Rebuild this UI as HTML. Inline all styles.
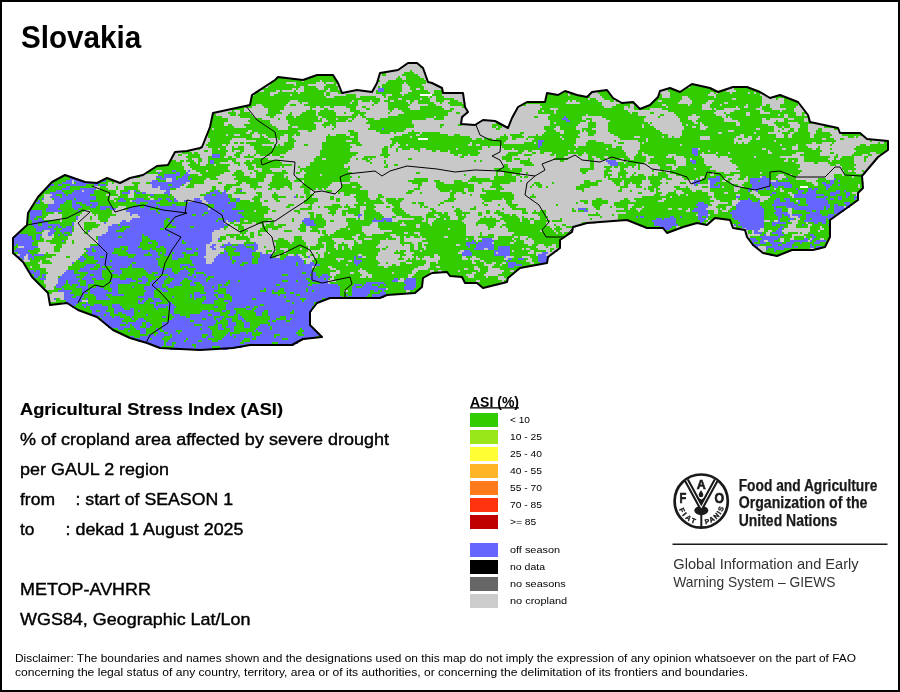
<!DOCTYPE html>
<html><head><meta charset="utf-8"><title>Slovakia ASI</title>
<style>
html,body{margin:0;padding:0;background:#fff;}
body{width:900px;height:692px;position:relative;overflow:hidden;font-family:"Liberation Sans",Arial,sans-serif;color:#000;}
#frame{position:absolute;left:0;top:0;width:896px;height:688px;border:2px solid #000;z-index:5;pointer-events:none;}
.lg{position:absolute;left:470px;width:28px;height:14px;}
svg{position:absolute;left:0;top:0;}
</style></head><body>
<svg id="map" width="900" height="692" viewBox="0 0 900 692">
<polygon points="13,238 27,225 28,213 38,197 52,182 65,175 85,182 97,183 107,178 120,183 130,178 143,175 157,166 168,165 175,152 187,151 200,148 202,147 210,127 213,113 250,105 252,95 275,80 278,77 303,80 317,75 333,75 338,83 342,93 357,90 372,92 377,83 380,73 398,70 408,63 417,63 423,68 428,82 432,83 442,88 443,93 463,93 465,107 468,112 462,117 461,124 475,125 483,120 495,121 508,128 512,118 518,107 527,102 545,102 547,93 558,95 565,91 577,95 587,97 592,92 607,90 613,98 622,103 633,102 640,109 650,105 658,97 660,91 670,88 680,92 692,84 710,88 718,92 733,87 747,87 760,92 770,98 780,95 798,102 808,115 810,122 838,128 840,133 860,133 867,139 888,141 888,150 878,157 873,163 862,176 863,188 858,193 858,200 830,220 830,237 825,247 813,250 792,250 777,256 763,253 753,245 747,237 745,230 733,228 730,220 715,218 707,225 697,223 683,227 667,233 663,228 647,228 627,220 600,222 587,223 573,227 572,232 560,240 560,248 548,257 547,263 520,268 508,278 507,282 483,288 477,283 465,283 462,277 450,276 447,272 432,273 423,278 422,287 415,293 387,295 380,298 330,298 317,303 310,312 310,325 322,337 303,339 292,345 250,345 233,348 200,350 160,348 147,343 130,338 113,330 97,317 78,310 67,303 50,305 48,293 32,277 23,262 13,253" fill="#33cc00" shape-rendering="crispEdges"/>
<g fill="none" stroke-width="2" shape-rendering="crispEdges">
<path stroke="#c8c8c8" d="M408 63h8M406 65h14M402 67h18M400 69h24M392 71h18M412 71h12M380 73h2M386 73h18M414 73h12M380 75h2M386 75h16M418 75h8M378 77h20M400 77h6M420 77h6M378 79h18M402 79h4M424 79h4M302 81h2M320 81h2M336 81h2M380 81h8M426 81h2M286 83h10M316 83h8M326 83h8M376 83h10M404 83h2M426 83h6M268 85h2M294 85h2M308 85h18M336 85h4M376 85h6M402 85h6M422 85h14M264 87h4M300 87h4M316 87h8M338 87h2M374 87h4M380 87h2M402 87h8M424 87h16M688 87h2M292 89h4M298 89h6M318 89h6M328 89h2M338 89h2M374 89h4M402 89h8M416 89h4M424 89h18M728 89h6M258 91h6M276 91h4M282 91h12M296 91h8M326 91h4M352 91h14M372 91h4M402 91h10M428 91h6M442 91h2M660 91h8M726 91h10M270 93h8M298 93h2M324 93h2M330 93h8M344 93h32M400 93h8M430 93h4M442 93h20M568 93h4M592 93h6M660 93h10M710 93h4M716 93h2M730 93h2M748 93h2M754 93h2M252 95h2M270 95h4M290 95h2M324 95h2M330 95h16M356 95h26M386 95h6M402 95h2M442 95h22M568 95h2M576 95h2M590 95h10M662 95h8M708 95h8M760 95h6M326 97h8M356 97h4M376 97h8M386 97h2M428 97h2M432 97h4M444 97h20M586 97h2M590 97h12M662 97h8M682 97h6M714 97h2M762 97h6M784 97h2M380 99h8M398 99h4M420 99h2M430 99h6M454 99h10M588 99h2M596 99h8M682 99h8M732 99h4M762 99h14M778 99h6M290 101h8M352 101h2M358 101h4M370 101h2M380 101h4M390 101h4M406 101h4M414 101h4M430 101h6M444 101h6M458 101h6M568 101h2M572 101h4M598 101h12M614 101h2M658 101h4M680 101h12M708 101h6M762 101h22M288 103h12M302 103h6M350 103h2M358 103h16M378 103h10M408 103h2M412 103h6M434 103h6M442 103h6M462 103h4M566 103h14M602 103h18M678 103h14M706 103h6M724 103h4M762 103h22M256 105h6M286 105h4M296 105h8M358 105h14M374 105h14M410 105h18M436 105h14M526 105h14M602 105h14M630 105h4M662 105h4M688 105h2M702 105h8M720 105h2M746 105h2M762 105h4M770 105h10M798 105h2M252 107h12M284 107h26M316 107h4M324 107h6M334 107h12M356 107h6M366 107h22M408 107h12M442 107h20M464 107h2M518 107h24M604 107h8M624 107h4M630 107h4M666 107h2M702 107h8M736 107h2M744 107h4M760 107h2M770 107h10M796 107h6M244 109h24M284 109h26M312 109h12M328 109h22M356 109h10M370 109h18M394 109h4M410 109h10M444 109h6M454 109h12M516 109h24M550 109h8M624 109h10M650 109h12M702 109h10M714 109h2M724 109h16M756 109h6M772 109h14M794 109h10M222 111h10M234 111h6M244 111h24M280 111h26M316 111h4M334 111h16M360 111h30M392 111h10M452 111h16M516 111h22M542 111h2M554 111h2M628 111h40M716 111h18M760 111h4M780 111h2M794 111h12M214 113h14M236 113h4M250 113h18M282 113h8M292 113h10M316 113h2M336 113h8M346 113h8M366 113h22M390 113h14M448 113h8M460 113h8M514 113h24M554 113h2M630 113h2M638 113h12M654 113h20M714 113h10M726 113h4M746 113h4M760 113h10M796 113h6M216 115h14M236 115h2M252 115h14M276 115h12M292 115h8M316 115h2M336 115h16M358 115h2M364 115h34M448 115h18M514 115h36M586 115h2M638 115h22M664 115h12M692 115h4M716 115h10M746 115h4M778 115h2M784 115h4M796 115h6M804 115h4M222 117h18M254 117h16M274 117h12M294 117h2M318 117h4M356 117h6M366 117h22M434 117h2M444 117h20M512 117h22M538 117h10M582 117h20M646 117h12M660 117h18M688 117h12M722 117h4M728 117h2M784 117h4M228 119h22M262 119h16M280 119h6M318 119h2M322 119h4M336 119h2M348 119h4M354 119h12M374 119h6M426 119h8M444 119h18M512 119h36M582 119h4M592 119h14M644 119h36M688 119h10M724 119h8M762 119h4M770 119h14M788 119h6M804 119h4M228 121h20M270 121h18M322 121h6M346 121h2M352 121h16M412 121h50M482 121h12M510 121h40M586 121h4M592 121h18M644 121h36M692 121h4M724 121h14M762 121h14M778 121h6M804 121h4M224 123h26M270 123h18M314 123h10M336 123h30M412 123h50M478 123h18M510 123h40M554 123h2M580 123h8M596 123h12M648 123h2M652 123h30M694 123h4M700 123h2M736 123h4M762 123h12M788 123h10M812 123h4M224 125h4M232 125h12M272 125h18M316 125h6M330 125h2M336 125h34M414 125h26M444 125h14M462 125h30M510 125h40M578 125h10M596 125h12M642 125h2M650 125h32M686 125h2M700 125h4M736 125h4M768 125h8M790 125h10M808 125h16M234 127h12M276 127h12M292 127h6M316 127h8M326 127h8M336 127h34M414 127h26M442 127h50M496 127h2M502 127h4M508 127h36M556 127h4M576 127h12M596 127h12M642 127h2M654 127h30M692 127h4M700 127h8M774 127h4M782 127h2M790 127h10M808 127h16M212 129h2M278 129h10M316 129h16M334 129h34M406 129h90M500 129h44M554 129h6M576 129h6M592 129h16M656 129h28M700 129h6M756 129h4M774 129h8M784 129h6M794 129h4M808 129h10M822 129h12M248 131h4M298 131h10M312 131h36M354 131h22M404 131h8M414 131h132M556 131h8M580 131h2M584 131h2M596 131h12M660 131h22M728 131h6M774 131h4M780 131h8M794 131h4M808 131h8M822 131h18M246 133h4M254 133h4M300 133h50M358 133h22M390 133h4M396 133h12M420 133h2M440 133h80M524 133h20M560 133h4M580 133h8M596 133h14M662 133h20M718 133h4M754 133h2M768 133h14M790 133h4M810 133h6M830 133h12M226 135h2M234 135h6M252 135h8M262 135h4M284 135h4M294 135h2M300 135h28M330 135h6M346 135h4M358 135h44M416 135h4M448 135h6M460 135h44M506 135h4M522 135h14M538 135h4M578 135h10M594 135h20M668 135h14M740 135h4M776 135h8M788 135h4M810 135h4M832 135h10M206 137h2M252 137h8M264 137h4M280 137h8M292 137h34M350 137h4M358 137h36M410 137h2M470 137h30M508 137h4M524 137h4M560 137h2M580 137h38M634 137h6M662 137h2M668 137h4M674 137h6M700 137h10M736 137h8M748 137h4M758 137h2M776 137h8M788 137h4M810 137h4M830 137h18M854 137h2M858 137h6M206 139h4M232 139h14M268 139h10M280 139h8M294 139h32M358 139h32M472 139h4M482 139h2M492 139h4M508 139h4M516 139h10M528 139h6M562 139h2M576 139h44M646 139h2M700 139h10M734 139h4M742 139h10M756 139h4M822 139h4M834 139h6M844 139h26M204 141h6M230 141h26M270 141h18M296 141h30M346 141h6M358 141h34M506 141h26M576 141h12M596 141h18M616 141h22M646 141h2M734 141h16M774 141h2M836 141h34M872 141h12M204 143h4M230 143h4M238 143h2M244 143h2M274 143h10M294 143h28M360 143h32M396 143h2M470 143h2M504 143h20M534 143h2M576 143h10M604 143h14M624 143h16M642 143h2M734 143h2M738 143h4M744 143h4M812 143h4M822 143h10M834 143h44M880 143h4M202 145h4M222 145h4M228 145h22M262 145h12M276 145h2M280 145h4M294 145h10M308 145h14M350 145h6M362 145h28M394 145h6M406 145h2M468 145h4M476 145h4M574 145h12M612 145h28M680 145h2M780 145h2M796 145h2M806 145h24M832 145h28M866 145h4M202 147h6M226 147h6M234 147h4M244 147h10M272 147h2M294 147h28M352 147h32M388 147h2M392 147h6M482 147h6M490 147h12M576 147h2M612 147h4M622 147h18M792 147h6M808 147h10M820 147h36M196 149h2M200 149h12M218 149h2M226 149h6M244 149h10M292 149h30M350 149h32M388 149h8M398 149h4M410 149h4M420 149h6M456 149h2M482 149h22M512 149h2M606 149h2M622 149h18M698 149h2M762 149h4M782 149h4M792 149h6M812 149h4M820 149h10M832 149h22M190 151h14M208 151h4M228 151h4M234 151h6M244 151h12M288 151h32M350 151h32M388 151h8M398 151h20M420 151h12M436 151h4M448 151h2M478 151h40M524 151h4M532 151h8M568 151h2M574 151h2M624 151h14M708 151h2M768 151h2M822 151h34M174 153h8M192 153h2M198 153h14M226 153h10M242 153h14M286 153h34M358 153h24M388 153h62M480 153h28M522 153h10M536 153h4M544 153h8M584 153h2M626 153h12M642 153h2M702 153h2M716 153h2M728 153h2M768 153h4M796 153h8M820 153h10M834 153h20M870 153h6M174 155h4M182 155h6M200 155h12M226 155h8M240 155h8M250 155h4M256 155h4M270 155h2M280 155h40M356 155h24M390 155h64M458 155h4M468 155h2M478 155h28M518 155h6M532 155h18M554 155h2M568 155h10M582 155h6M626 155h10M642 155h6M668 155h8M700 155h16M792 155h8M820 155h16M838 155h14M862 155h6M872 155h10M172 157h14M200 157h8M224 157h4M232 157h4M240 157h4M254 157h26M284 157h32M352 157h12M376 157h8M388 157h72M464 157h38M512 157h44M564 157h24M592 157h4M604 157h4M628 157h6M646 157h8M666 157h6M674 157h10M702 157h16M720 157h8M754 157h2M780 157h24M830 157h4M838 157h4M854 157h10M868 157h12M172 159h16M192 159h6M202 159h6M236 159h18M268 159h46M322 159h4M350 159h6M358 159h4M368 159h2M372 159h36M412 159h90M512 159h2M520 159h8M530 159h24M568 159h20M594 159h6M606 159h4M620 159h4M630 159h4M646 159h4M674 159h12M690 159h2M704 159h28M786 159h2M798 159h6M828 159h6M836 159h4M854 159h10M866 159h12M176 161h4M184 161h2M194 161h4M202 161h6M228 161h4M236 161h10M250 161h2M280 161h34M350 161h16M370 161h14M386 161h88M476 161h4M482 161h24M512 161h8M530 161h30M564 161h26M594 161h12M616 161h8M626 161h2M646 161h4M676 161h10M704 161h26M784 161h4M792 161h2M798 161h6M830 161h2M854 161h10M866 161h10M182 163h8M196 163h2M200 163h8M220 163h14M240 163h4M282 163h28M348 163h22M372 163h12M386 163h134M532 163h58M594 163h14M624 163h2M644 163h4M676 163h10M704 163h28M796 163h18M818 163h10M854 163h20M182 165h6M200 165h6M214 165h2M230 165h8M240 165h6M252 165h4M292 165h18M344 165h42M388 165h6M398 165h106M508 165h16M534 165h56M594 165h16M636 165h2M640 165h18M666 165h8M676 165h10M706 165h30M800 165h30M836 165h4M856 165h16M184 167h6M228 167h20M254 167h2M280 167h2M284 167h14M300 167h6M344 167h4M350 167h34M388 167h116M508 167h82M594 167h10M612 167h2M618 167h2M628 167h4M634 167h4M640 167h20M672 167h6M712 167h26M800 167h42M854 167h16M184 169h8M228 169h20M254 169h8M270 169h30M350 169h144M510 169h2M522 169h58M594 169h12M610 169h10M624 169h14M640 169h20M672 169h4M694 169h2M710 169h26M798 169h44M856 169h12M156 171h6M186 171h2M190 171h6M206 171h2M230 171h6M242 171h12M258 171h4M272 171h10M286 171h14M302 171h2M348 171h148M522 171h58M588 171h16M612 171h8M626 171h26M654 171h8M664 171h6M716 171h24M802 171h42M848 171h4M854 171h8M864 171h2M188 173h12M224 173h10M244 173h6M252 173h4M288 173h8M300 173h6M352 173h64M420 173h76M498 173h6M520 173h6M528 173h54M586 173h18M608 173h10M628 173h6M636 173h22M666 173h4M712 173h2M724 173h6M760 173h2M800 173h44M856 173h10M142 175h16M198 175h4M220 175h12M244 175h12M266 175h8M284 175h20M320 175h2M350 175h114M466 175h30M498 175h6M512 175h4M520 175h84M612 175h6M626 175h6M634 175h4M644 175h8M654 175h4M668 175h8M710 175h4M734 175h6M778 175h6M790 175h2M798 175h36M842 175h2M140 177h16M216 177h20M250 177h6M266 177h6M284 177h2M288 177h16M352 177h6M360 177h112M476 177h18M516 177h4M522 177h2M528 177h76M606 177h2M610 177h8M620 177h2M626 177h4M646 177h2M668 177h14M700 177h4M726 177h14M746 177h2M760 177h2M776 177h10M796 177h38M852 177h2M128 179h28M166 179h6M206 179h4M218 179h16M264 179h8M288 179h8M350 179h64M428 179h42M490 179h4M516 179h92M646 179h2M662 179h4M672 179h12M696 179h2M700 179h2M724 179h4M732 179h6M744 179h4M778 179h4M796 179h22M826 179h8M72 181h2M124 181h28M166 181h6M204 181h34M264 181h8M290 181h4M302 181h2M350 181h58M428 181h6M440 181h14M462 181h6M516 181h4M522 181h62M590 181h6M602 181h10M622 181h2M642 181h8M660 181h34M708 181h2M722 181h4M730 181h18M770 181h6M806 181h10M72 183h2M108 183h4M114 183h18M140 183h6M186 183h4M204 183h14M222 183h14M242 183h4M258 183h12M292 183h12M332 183h18M358 183h54M422 183h14M444 183h10M468 183h10M482 183h10M510 183h24M540 183h12M554 183h30M598 183h16M620 183h4M630 183h2M642 183h8M662 183h4M668 183h12M686 183h6M708 183h2M730 183h14M812 183h6M862 183h2M108 185h26M138 185h14M184 185h4M194 185h32M240 185h10M258 185h10M292 185h10M330 185h12M360 185h58M422 185h14M474 185h18M500 185h32M534 185h2M542 185h38M598 185h18M620 185h4M628 185h8M640 185h12M660 185h34M698 185h12M738 185h4M814 185h4M858 185h2M94 187h6M106 187h10M118 187h6M138 187h14M158 187h2M180 187h6M194 187h18M216 187h8M232 187h18M262 187h8M284 187h4M292 187h8M328 187h14M352 187h4M362 187h56M420 187h16M474 187h16M502 187h28M532 187h6M542 187h4M548 187h28M590 187h30M628 187h8M642 187h6M658 187h16M680 187h6M688 187h14M708 187h2M722 187h2M734 187h10M858 187h2M96 189h4M108 189h8M118 189h6M138 189h22M176 189h36M216 189h8M230 189h6M242 189h12M256 189h12M272 189h4M280 189h10M292 189h12M316 189h2M322 189h2M326 189h14M360 189h54M420 189h18M464 189h4M474 189h8M484 189h12M504 189h72M584 189h36M622 189h22M646 189h2M654 189h2M660 189h16M690 189h20M734 189h6M774 189h2M780 189h2M82 191h2M116 191h4M130 191h4M140 191h26M170 191h40M220 191h4M228 191h8M242 191h62M310 191h16M332 191h6M368 191h40M414 191h26M450 191h2M464 191h4M474 191h8M500 191h82M584 191h34M622 191h8M632 191h18M654 191h2M658 191h16M676 191h6M692 191h4M702 191h8M734 191h4M752 191h4M780 191h4M116 193h4M130 193h4M146 193h18M170 193h36M226 193h8M246 193h10M262 193h12M276 193h28M310 193h28M340 193h4M368 193h38M412 193h8M422 193h28M456 193h6M466 193h20M512 193h126M642 193h14M662 193h6M676 193h8M708 193h6M724 193h4M750 193h8M788 193h4M852 193h6M44 195h8M106 195h4M118 195h2M128 195h6M172 195h28M232 195h26M262 195h10M278 195h18M298 195h8M314 195h30M350 195h6M368 195h10M382 195h68M454 195h16M472 195h8M514 195h18M534 195h120M660 195h6M678 195h2M686 195h2M708 195h6M736 195h4M754 195h6M790 195h4M856 195h2M44 197h6M110 197h8M128 197h6M148 197h2M174 197h30M232 197h22M262 197h10M286 197h8M298 197h2M304 197h2M312 197h18M334 197h20M368 197h10M384 197h66M454 197h26M514 197h16M536 197h106M670 197h2M712 197h2M756 197h14M792 197h2M44 199h8M110 199h4M150 199h4M176 199h18M200 199h4M240 199h12M260 199h14M278 199h28M318 199h12M334 199h2M340 199h16M370 199h6M380 199h6M396 199h2M404 199h44M456 199h26M502 199h2M514 199h82M602 199h22M628 199h6M662 199h4M710 199h6M736 199h2M760 199h8M42 201h12M114 201h2M130 201h2M178 201h6M188 201h6M202 201h4M250 201h4M260 201h4M268 201h8M280 201h24M318 201h18M340 201h16M382 201h4M402 201h42M454 201h30M492 201h14M512 201h68M588 201h4M608 201h12M630 201h6M658 201h6M714 201h6M732 201h8M760 201h4M796 201h2M44 203h10M202 203h6M262 203h42M314 203h44M364 203h2M384 203h4M400 203h12M416 203h2M424 203h16M444 203h38M484 203h22M512 203h64M578 203h6M588 203h4M608 203h6M710 203h18M732 203h6M262 205h26M294 205h16M312 205h20M340 205h6M348 205h6M374 205h18M400 205h20M424 205h14M440 205h44M488 205h10M500 205h8M518 205h38M558 205h34M602 205h12M628 205h6M712 205h6M732 205h4M118 207h8M268 207h18M290 207h18M312 207h6M320 207h4M342 207h2M350 207h6M360 207h6M376 207h10M390 207h4M400 207h20M422 207h2M428 207h24M454 207h20M476 207h34M516 207h78M600 207h10M612 207h4M628 207h4M642 207h2M708 207h8M726 207h6M844 207h2M116 209h8M208 209h2M270 209h30M312 209h16M338 209h10M360 209h6M374 209h18M402 209h28M434 209h22M460 209h10M476 209h26M504 209h8M526 209h46M574 209h4M588 209h8M600 209h24M628 209h2M636 209h6M668 209h4M678 209h4M688 209h2M706 209h12M720 209h2M726 209h4M788 209h4M84 211h6M112 211h14M254 211h2M268 211h4M276 211h18M300 211h30M336 211h6M360 211h4M376 211h16M404 211h28M436 211h18M462 211h24M490 211h6M500 211h22M526 211h8M536 211h4M546 211h26M576 211h2M588 211h28M638 211h2M686 211h4M714 211h4M722 211h6M788 211h4M54 213h4M82 213h10M112 213h18M268 213h30M300 213h8M314 213h14M336 213h6M346 213h2M360 213h4M380 213h14M406 213h22M442 213h2M448 213h8M470 213h8M482 213h4M490 213h4M504 213h18M528 213h4M546 213h50M598 213h28M714 213h4M788 213h4M48 215h14M80 215h14M96 215h2M116 215h14M132 215h6M264 215h46M314 215h2M322 215h10M334 215h8M346 215h8M362 215h2M382 215h14M410 215h16M434 215h4M448 215h8M462 215h2M466 215h12M482 215h16M510 215h2M516 215h22M546 215h42M600 215h12M614 215h4M696 215h2M708 215h2M790 215h2M836 215h2M46 217h16M78 217h12M92 217h6M110 217h30M264 217h46M314 217h2M322 217h36M360 217h4M384 217h8M396 217h6M422 217h4M436 217h4M450 217h8M466 217h18M486 217h4M492 217h10M518 217h4M524 217h16M548 217h52M602 217h16M790 217h8M44 219h18M78 219h12M92 219h6M108 219h24M272 219h20M294 219h10M324 219h22M356 219h2M360 219h4M392 219h22M424 219h2M428 219h8M444 219h2M450 219h8M464 219h16M496 219h4M520 219h2M528 219h2M534 219h6M546 219h14M562 219h28M592 219h26M706 219h2M796 219h4M60 221h2M76 221h24M108 221h14M126 221h4M226 221h2M244 221h4M268 221h4M274 221h18M294 221h8M326 221h4M334 221h12M392 221h6M422 221h4M428 221h6M462 221h16M500 221h4M520 221h2M530 221h4M550 221h2M562 221h50M708 221h2M764 221h6M774 221h4M790 221h8M74 223h10M96 223h8M106 223h14M224 223h6M234 223h6M252 223h4M264 223h6M274 223h28M326 223h22M372 223h6M402 223h2M428 223h4M464 223h12M496 223h10M530 223h4M546 223h36M586 223h10M706 223h2M792 223h6M806 223h2M74 225h10M100 225h12M230 225h4M242 225h20M264 225h2M274 225h4M286 225h14M326 225h22M370 225h8M400 225h6M416 225h4M430 225h2M466 225h10M478 225h8M496 225h6M546 225h8M556 225h6M566 225h16M732 225h2M788 225h8M808 225h4M74 227h10M98 227h10M228 227h10M244 227h18M282 227h18M306 227h4M324 227h22M362 227h16M416 227h4M466 227h22M494 227h6M502 227h4M550 227h6M560 227h6M572 227h4M676 227h4M732 227h4M788 227h8M808 227h2M820 227h2M74 229h10M92 229h16M220 229h4M226 229h12M244 229h16M268 229h4M278 229h20M306 229h6M318 229h22M348 229h2M362 229h18M448 229h2M466 229h22M490 229h18M552 229h2M562 229h12M736 229h10M760 229h4M784 229h26M820 229h4M44 231h6M74 231h12M90 231h18M214 231h26M248 231h10M268 231h16M292 231h8M306 231h4M320 231h2M326 231h10M362 231h30M466 231h42M540 231h2M554 231h2M560 231h12M744 231h4M752 231h2M758 231h6M768 231h4M782 231h28M818 231h2M42 233h6M72 233h12M88 233h18M212 233h28M246 233h4M254 233h4M260 233h58M320 233h2M326 233h8M364 233h20M404 233h4M414 233h6M466 233h14M482 233h32M556 233h2M562 233h2M746 233h2M752 233h2M766 233h4M784 233h4M798 233h2M802 233h6M42 235h6M52 235h2M72 235h30M212 235h14M240 235h2M244 235h6M254 235h4M262 235h62M328 235h2M356 235h4M366 235h6M390 235h6M418 235h2M466 235h14M482 235h6M494 235h18M746 235h14M766 235h4M792 235h12M42 237h12M68 237h28M212 237h8M226 237h4M234 237h2M248 237h2M254 237h40M302 237h18M352 237h6M392 237h8M404 237h2M410 237h4M420 237h2M444 237h4M474 237h4M494 237h4M514 237h4M520 237h8M746 237h4M792 237h2M804 237h2M44 239h8M68 239h28M212 239h6M226 239h10M250 239h28M284 239h10M302 239h16M332 239h12M354 239h4M364 239h8M386 239h2M396 239h4M404 239h22M466 239h2M474 239h8M492 239h6M512 239h2M520 239h6M528 239h4M780 239h4M790 239h4M810 239h2M820 239h4M44 241h2M66 241h6M74 241h24M212 241h6M222 241h24M250 241h24M288 241h6M304 241h14M334 241h20M356 241h6M380 241h20M404 241h18M476 241h2M514 241h2M524 241h10M764 241h4M780 241h4M808 241h2M38 243h12M66 243h6M74 243h24M210 243h18M230 243h14M256 243h20M290 243h2M306 243h12M322 243h4M336 243h6M344 243h10M358 243h4M380 243h20M412 243h6M422 243h6M492 243h2M510 243h4M524 243h10M38 245h18M62 245h28M206 245h6M216 245h6M258 245h18M306 245h10M324 245h2M334 245h4M348 245h6M378 245h24M404 245h6M414 245h4M422 245h2M456 245h4M528 245h4M538 245h6M552 245h4M18 247h6M38 247h16M62 247h28M206 247h4M214 247h6M258 247h6M266 247h8M308 247h2M324 247h2M334 247h4M342 247h2M348 247h4M376 247h10M388 247h22M414 247h4M422 247h4M536 247h10M548 247h8M758 247h8M40 249h14M60 249h24M206 249h6M216 249h8M258 249h18M280 249h8M300 249h2M308 249h2M320 249h6M336 249h2M342 249h2M350 249h2M380 249h2M386 249h24M414 249h4M424 249h2M484 249h4M522 249h2M526 249h4M538 249h12M554 249h4M758 249h8M810 249h4M816 249h4M40 251h14M60 251h26M206 251h18M256 251h10M272 251h4M284 251h4M308 251h18M380 251h16M398 251h2M406 251h4M420 251h2M460 251h4M512 251h2M530 251h4M546 251h4M552 251h6M760 251h6M38 253h8M48 253h36M206 253h14M262 253h4M268 253h6M284 253h2M306 253h10M318 253h6M328 253h2M378 253h16M404 253h10M458 253h4M496 253h2M528 253h6M536 253h6M548 253h6M16 255h4M26 255h2M56 255h26M206 255h12M278 255h2M288 255h6M298 255h4M306 255h4M314 255h4M320 255h4M358 255h4M378 255h22M406 255h6M434 255h4M536 255h2M546 255h6M24 257h4M52 257h14M70 257h10M204 257h12M276 257h4M300 257h4M310 257h8M320 257h4M362 257h4M376 257h24M402 257h12M416 257h2M424 257h6M434 257h6M462 257h4M472 257h4M506 257h8M522 257h8M548 257h2M24 259h4M46 259h32M206 259h8M302 259h12M336 259h8M376 259h22M404 259h4M410 259h2M416 259h4M422 259h18M462 259h6M470 259h10M504 259h4M528 259h4M22 261h8M40 261h2M50 261h26M206 261h8M306 261h6M338 261h2M348 261h4M378 261h28M426 261h12M472 261h2M480 261h4M526 261h6M38 263h4M52 263h20M206 263h6M306 263h4M380 263h6M388 263h12M406 263h6M426 263h4M436 263h2M472 263h4M484 263h2M492 263h4M502 263h4M530 263h4M546 263h2M40 265h32M346 265h2M378 265h14M396 265h4M424 265h6M484 265h10M500 265h2M30 267h2M40 267h28M312 267h4M328 267h4M384 267h4M418 267h12M436 267h4M474 267h4M488 267h4M46 269h22M330 269h6M360 269h2M414 269h14M464 269h4M474 269h6M488 269h12M46 271h20M336 271h4M358 271h8M412 271h6M430 271h4M438 271h4M458 271h2M478 271h2M488 271h16M510 271h4M48 273h16M330 273h10M350 273h4M360 273h8M392 273h2M412 273h4M430 273h4M472 273h4M486 273h16M46 275h16M330 275h6M362 275h10M408 275h6M466 275h8M484 275h14M46 277h12M332 277h2M360 277h6M368 277h4M408 277h4M468 277h6M486 277h2M498 277h6M46 279h12M330 279h4M400 279h4M498 279h8M44 281h14M328 281h8M398 281h6M476 281h4M502 281h2M44 283h14M328 283h2M500 283h6M46 285h10M496 285h2M46 287h8M44 289h10M386 289h2M344 291h4M406 291h4M52 293h12M406 293h2M48 295h16M48 297h16M48 299h6M60 299h4M50 301h6M82 301h6M62 303h2M320 337h2M180 349h2"/>
<path stroke="#6666ff" d="M378 89h6M378 91h6M564 117h2M562 119h6M566 121h4M382 129h2M538 141h6M538 143h4M538 145h4M538 147h2M692 149h6M692 151h6M692 153h6M212 155h8M694 155h4M212 157h8M210 161h4M606 161h10M690 161h6M210 163h4M608 163h10M692 163h4M610 165h8M172 171h4M188 171h2M158 173h2M176 173h4M186 173h2M164 175h16M184 175h6M70 177h2M156 177h6M164 177h12M182 177h6M716 177h4M762 177h4M70 179h6M160 179h6M172 179h4M178 179h10M190 179h2M708 179h12M750 179h20M786 179h2M834 179h2M66 181h6M74 181h8M102 181h4M152 181h6M172 181h18M694 181h6M710 181h10M750 181h8M760 181h10M776 181h2M830 181h4M838 181h2M62 183h10M76 183h24M150 183h36M692 183h8M710 183h6M750 183h40M822 183h4M830 183h4M50 185h4M58 185h4M70 185h16M94 185h4M100 185h6M152 185h16M172 185h10M694 185h2M710 185h4M718 185h2M752 185h18M772 185h20M824 185h8M838 185h2M48 187h2M66 187h4M152 187h6M160 187h20M710 187h10M752 187h18M774 187h4M784 187h8M826 187h4M46 189h2M62 189h8M80 189h16M160 189h10M748 189h16M766 189h4M796 189h2M808 189h4M814 189h4M826 189h2M56 191h6M74 191h8M84 191h10M128 191h2M134 191h2M166 191h4M214 191h4M224 191h2M240 191h2M748 191h2M756 191h2M798 191h6M808 191h8M836 191h4M844 191h2M50 193h14M72 193h22M122 193h8M136 193h4M142 193h4M164 193h6M210 193h10M222 193h4M772 193h4M798 193h4M806 193h10M830 193h10M846 193h4M52 195h4M62 195h4M68 195h22M150 195h4M168 195h2M206 195h6M216 195h12M770 195h2M794 195h30M830 195h6M846 195h4M50 197h10M62 197h34M204 197h24M294 197h2M736 197h4M794 197h22M824 197h4M838 197h4M846 197h2M854 197h4M42 199h2M54 199h20M76 199h20M120 199h4M136 199h8M158 199h4M166 199h4M174 199h2M194 199h6M204 199h26M236 199h4M748 199h2M776 199h4M784 199h6M806 199h20M830 199h4M838 199h4M854 199h2M38 201h2M54 201h12M72 201h18M118 201h8M132 201h28M168 201h4M174 201h4M184 201h4M194 201h8M206 201h24M236 201h4M740 201h12M758 201h2M774 201h6M786 201h4M798 201h2M806 201h22M36 203h4M54 203h10M72 203h4M82 203h16M136 203h4M148 203h8M188 203h14M208 203h20M230 203h6M698 203h6M738 203h22M774 203h20M798 203h2M806 203h22M844 203h6M48 205h12M72 205h8M86 205h4M92 205h6M146 205h14M172 205h4M186 205h20M214 205h22M696 205h12M736 205h24M772 205h26M808 205h22M834 205h4M846 205h6M48 207h12M72 207h10M90 207h6M100 207h12M132 207h8M144 207h12M158 207h50M214 207h22M698 207h10M736 207h26M774 207h2M786 207h38M826 207h4M834 207h10M846 207h4M46 209h12M74 209h4M100 209h6M110 209h6M128 209h22M160 209h48M210 209h22M578 209h8M694 209h12M736 209h28M774 209h8M794 209h30M826 209h2M834 209h12M30 211h12M46 211h16M78 211h2M126 211h30M158 211h64M224 211h20M584 211h4M692 211h16M732 211h32M776 211h6M806 211h6M816 211h4M834 211h10M30 213h12M130 213h28M160 213h44M208 213h30M698 213h10M730 213h34M774 213h14M810 213h10M834 213h6M30 215h12M130 215h2M138 215h54M196 215h6M204 215h38M358 215h4M698 215h10M732 215h32M776 215h6M784 215h6M792 215h10M806 215h16M828 215h6M30 217h6M76 217h2M140 217h104M358 217h2M636 217h2M640 217h4M670 217h4M680 217h2M698 217h4M706 217h2M732 217h32M778 217h4M788 217h2M798 217h2M806 217h28M30 219h4M38 219h4M76 219h2M132 219h34M170 219h48M224 219h16M304 219h6M374 219h2M382 219h10M656 219h6M664 219h12M698 219h8M734 219h30M778 219h2M790 219h4M806 219h4M812 219h14M828 219h2M32 221h12M122 221h4M130 221h34M168 221h4M174 221h42M218 221h8M228 221h6M236 221h4M302 221h12M372 221h12M386 221h6M652 221h24M700 221h4M738 221h26M778 221h2M788 221h2M804 221h22M32 223h6M42 223h6M72 223h2M104 223h2M120 223h44M170 223h54M304 223h10M654 223h22M700 223h2M740 223h24M772 223h14M814 223h4M822 223h4M32 225h6M42 225h18M72 225h2M112 225h6M120 225h44M172 225h56M306 225h10M654 225h24M734 225h2M738 225h26M772 225h4M802 225h2M828 225h2M34 227h14M52 227h4M58 227h4M66 227h6M108 227h14M130 227h34M176 227h14M194 227h30M660 227h12M742 227h22M780 227h4M36 229h18M62 229h10M108 229h12M126 229h34M164 229h56M664 229h6M746 229h14M778 229h4M36 231h6M50 231h6M60 231h12M88 231h2M108 231h8M124 231h90M754 231h4M776 231h6M18 233h2M48 233h6M62 233h2M70 233h2M106 233h106M754 233h8M772 233h10M16 235h12M36 235h6M48 235h4M58 235h2M64 235h4M102 235h40M144 235h24M170 235h42M764 235h2M778 235h6M810 235h4M14 237h18M36 237h4M98 237h20M122 237h20M148 237h64M760 237h20M812 237h4M12 239h20M36 239h4M98 239h44M150 239h62M218 239h2M482 239h10M750 239h6M762 239h16M804 239h4M812 239h2M12 241h22M62 241h2M98 241h44M156 241h26M184 241h28M472 241h2M482 241h12M752 241h6M760 241h4M768 241h6M790 241h18M810 241h2M816 241h10M12 243h20M98 243h42M148 243h4M158 243h24M186 243h24M228 243h2M254 243h2M466 243h10M478 243h14M752 243h2M760 243h6M770 243h12M786 243h8M800 243h2M814 243h6M12 245h4M18 245h14M98 245h42M158 245h48M212 245h4M224 245h8M238 245h6M246 245h12M466 245h4M476 245h18M752 245h8M772 245h6M782 245h10M810 245h2M24 247h14M90 247h30M128 247h10M156 247h4M164 247h42M210 247h4M220 247h6M232 247h14M254 247h4M468 247h2M476 247h18M498 247h12M756 247h2M766 247h26M794 247h4M810 247h4M816 247h6M16 249h18M86 249h6M94 249h20M122 249h2M128 249h14M150 249h2M166 249h20M192 249h4M198 249h8M212 249h4M236 249h16M254 249h4M474 249h10M488 249h6M498 249h12M766 249h2M774 249h10M12 251h16M88 251h4M96 251h18M126 251h30M166 251h40M224 251h2M234 251h22M464 251h6M494 251h16M774 251h2M18 253h12M86 253h26M128 253h20M150 253h8M160 253h2M166 253h6M174 253h8M186 253h8M198 253h8M224 253h4M240 253h12M260 253h2M462 253h10M494 253h2M498 253h12M542 253h6M20 255h6M28 255h4M34 255h10M88 255h30M136 255h8M152 255h6M164 255h6M172 255h12M198 255h8M218 255h10M240 255h12M260 255h12M296 255h2M462 255h10M494 255h16M538 255h8M770 255h2M18 257h6M28 257h6M80 257h4M94 257h6M104 257h24M134 257h26M172 257h12M190 257h14M216 257h14M232 257h22M260 257h12M286 257h14M308 257h2M354 257h2M358 257h4M504 257h2M538 257h10M22 259h2M28 259h2M32 259h2M78 259h8M94 259h62M172 259h6M190 259h16M214 259h16M232 259h20M258 259h22M284 259h18M354 259h2M508 259h4M518 259h6M538 259h10M80 261h4M98 261h12M112 261h46M192 261h14M214 261h18M236 261h16M258 261h46M354 261h8M506 261h2M538 261h10M72 263h2M96 263h36M136 263h22M192 263h14M212 263h20M234 263h8M248 263h4M258 263h38M298 263h6M310 263h4M354 263h6M508 263h8M540 263h6M86 265h10M100 265h30M132 265h26M180 265h10M194 265h46M244 265h52M298 265h22M356 265h2M508 265h14M84 267h10M100 267h2M112 267h16M132 267h28M180 267h2M188 267h124M508 267h6M80 269h10M98 269h8M110 269h10M144 269h20M166 269h6M184 269h2M196 269h116M28 271h6M36 271h4M66 271h8M78 271h24M114 271h8M146 271h26M180 271h8M194 271h118M30 273h10M64 273h10M88 273h14M112 273h10M148 273h4M158 273h16M178 273h12M194 273h2M204 273h98M306 273h10M34 275h6M42 275h4M62 275h18M86 275h4M94 275h8M118 275h2M154 275h6M168 275h20M192 275h12M206 275h76M288 275h22M312 275h4M322 275h6M34 277h4M42 277h2M60 277h16M84 277h18M142 277h4M160 277h8M170 277h24M196 277h12M214 277h104M320 277h10M40 279h6M58 279h22M82 279h10M96 279h8M112 279h8M126 279h6M138 279h10M156 279h10M174 279h10M188 279h18M210 279h96M310 279h14M326 279h2M394 279h4M406 279h10M58 281h8M68 281h10M86 281h8M110 281h26M142 281h6M152 281h12M172 281h10M192 281h14M208 281h20M230 281h8M240 281h42M288 281h8M298 281h10M312 281h16M392 281h6M404 281h12M58 283h8M68 283h12M86 283h8M112 283h18M138 283h8M150 283h6M158 283h6M170 283h10M190 283h4M200 283h26M230 283h80M320 283h8M366 283h18M404 283h12M56 285h8M70 285h2M78 285h2M86 285h2M110 285h8M150 285h12M166 285h16M190 285h6M202 285h16M222 285h2M228 285h48M280 285h28M312 285h26M354 285h8M364 285h8M378 285h2M384 285h2M406 285h10M56 287h6M76 287h12M96 287h4M110 287h8M132 287h2M144 287h18M168 287h6M204 287h8M214 287h4M220 287h120M352 287h4M362 287h16M404 287h12M62 289h2M82 289h6M90 289h14M112 289h6M144 289h12M160 289h6M204 289h14M226 289h38M266 289h14M284 289h22M308 289h32M352 289h34M404 289h10M58 291h14M82 291h4M90 291h18M112 291h6M146 291h8M162 291h6M204 291h10M226 291h34M266 291h6M274 291h4M284 291h22M308 291h4M314 291h26M352 291h18M374 291h4M382 291h2M64 293h6M82 293h6M90 293h28M144 293h10M194 293h6M206 293h12M226 293h46M286 293h4M294 293h46M352 293h18M380 293h6M64 295h10M82 295h2M94 295h12M112 295h12M144 295h10M190 295h2M194 295h20M218 295h6M230 295h48M280 295h16M300 295h40M346 295h2M352 295h16M372 295h14M64 297h8M76 297h8M96 297h12M138 297h16M172 297h2M190 297h2M194 297h8M206 297h10M218 297h6M232 297h52M286 297h56M348 297h18M372 297h12M54 299h2M64 299h18M86 299h2M96 299h14M144 299h4M152 299h8M194 299h2M206 299h12M232 299h20M256 299h44M306 299h16M66 301h16M138 301h2M142 301h4M154 301h8M204 301h10M224 301h6M232 301h54M290 301h12M304 301h16M66 303h12M86 303h2M138 303h6M150 303h6M168 303h4M202 303h12M228 303h64M294 303h20M70 305h6M82 305h8M94 305h8M112 305h8M154 305h2M158 305h16M226 305h34M264 305h50M72 307h2M84 307h2M90 307h18M112 307h10M154 307h12M168 307h8M214 307h4M226 307h20M250 307h4M258 307h54M76 309h2M90 309h18M114 309h10M130 309h4M156 309h2M168 309h6M226 309h8M246 309h6M256 309h56M92 311h4M100 311h6M114 311h20M138 311h2M170 311h4M202 311h6M210 311h4M222 311h4M230 311h6M254 311h10M268 311h24M294 311h18M92 313h18M114 313h4M122 313h12M170 313h4M200 313h20M230 313h6M256 313h6M268 313h22M294 313h16M92 315h12M106 315h4M126 315h8M146 315h2M172 315h8M190 315h18M212 315h8M228 315h6M238 315h2M256 315h6M268 315h42M100 317h12M114 317h6M130 317h2M162 317h4M174 317h12M190 317h24M220 317h4M238 317h4M270 317h10M286 317h24M102 319h22M132 319h2M138 319h6M172 319h30M206 319h8M216 319h6M226 319h6M238 319h6M270 319h6M286 319h4M292 319h18M102 321h20M136 321h10M168 321h22M194 321h22M218 321h2M228 321h4M242 321h4M268 321h4M276 321h10M290 321h20M104 323h22M128 323h14M146 323h4M162 323h54M228 323h8M244 323h6M270 323h40M106 325h14M126 325h4M132 325h10M146 325h6M162 325h32M202 325h12M218 325h4M228 325h8M244 325h6M260 325h8M270 325h40M108 327h22M134 327h6M146 327h4M162 327h46M218 327h4M226 327h8M244 327h6M258 327h12M272 327h40M118 329h6M136 329h10M156 329h2M162 329h38M202 329h8M218 329h6M230 329h4M256 329h14M272 329h28M302 329h12M128 331h2M140 331h6M156 331h4M164 331h12M182 331h30M230 331h4M254 331h2M258 331h40M304 331h12M140 333h6M158 333h6M168 333h10M180 333h32M228 333h2M240 333h6M248 333h4M262 333h34M302 333h16M148 335h6M156 335h14M172 335h30M208 335h4M226 335h4M232 335h20M260 335h14M280 335h18M304 335h16M130 337h4M140 337h24M172 337h30M206 337h8M224 337h10M236 337h18M256 337h18M276 337h40M132 339h18M152 339h10M170 339h16M188 339h20M222 339h22M250 339h2M256 339h26M288 339h18M138 341h26M168 341h16M186 341h12M202 341h10M218 341h24M250 341h50M146 343h18M166 343h6M176 343h64M244 343h28M278 343h20M152 345h12M166 345h6M174 345h18M196 345h50M252 345h20M278 345h16M156 347h6M174 347h20M196 347h16M220 347h22M170 349h10M182 349h30M222 349h6"/>
<path stroke="#ffffff" d="M420 95h12M418 139h10M800 187h8"/>
</g>
<polyline points="27,225 43,222 67,218 83,210 90,212 78,223 83,230 97,243 107,253 105,265 112,275 110,282 103,287 95,285 83,293 78,303" fill="none" stroke="#000" stroke-width="1"/>
<polyline points="92,186 110,193 108,200 115,212 132,207 143,205 163,210 187,213 175,217 165,229 181,237 172,250 165,263 162,275 152,285 160,292 170,303 168,323 150,335 146,343" fill="none" stroke="#000" stroke-width="1"/>
<polyline points="185,214 187,200 205,204 222,215 224,222 240,232 262,222 275,221 290,211 307,200 315,192 322,191 335,194 342,187 340,177 347,174 375,171 382,176 390,171 407,166 437,169 455,172 475,170 500,171 520,174 535,176" fill="none" stroke="#000" stroke-width="1"/>
<polyline points="246,106 257,120 275,132 277,142 272,152 261,160 262,165 275,160 295,162 294,175 305,185 315,192" fill="none" stroke="#000" stroke-width="1"/>
<polyline points="262,222 265,230 272,237 275,250 270,258 282,254 300,245 310,250 317,262 312,272 312,280 322,283 350,277 352,284 345,290 345,297" fill="none" stroke="#000" stroke-width="1"/>
<polyline points="476,125 480,135 490,140 501,141 500,152 492,156 500,160 504,167 497,171" fill="none" stroke="#000" stroke-width="1"/>
<polyline points="535,176 545,170 542,164 555,159 567,159 575,155 582,160 600,162 612,157 622,160 645,164 652,169 672,172 687,177 691,184 705,179 707,172 720,174 725,180 735,186 755,190 770,186 770,172 780,171 795,177 825,177 835,167 840,167 845,175 861,176" fill="none" stroke="#000" stroke-width="1"/>
<polyline points="535,176 527,183 525,195 539,205 549,222 542,230 546,237 565,237 572,229" fill="none" stroke="#000" stroke-width="1"/>
<polygon points="13,238 27,225 28,213 38,197 52,182 65,175 85,182 97,183 107,178 120,183 130,178 143,175 157,166 168,165 175,152 187,151 200,148 202,147 210,127 213,113 250,105 252,95 275,80 278,77 303,80 317,75 333,75 338,83 342,93 357,90 372,92 377,83 380,73 398,70 408,63 417,63 423,68 428,82 432,83 442,88 443,93 463,93 465,107 468,112 462,117 461,124 475,125 483,120 495,121 508,128 512,118 518,107 527,102 545,102 547,93 558,95 565,91 577,95 587,97 592,92 607,90 613,98 622,103 633,102 640,109 650,105 658,97 660,91 670,88 680,92 692,84 710,88 718,92 733,87 747,87 760,92 770,98 780,95 798,102 808,115 810,122 838,128 840,133 860,133 867,139 888,141 888,150 878,157 873,163 862,176 863,188 858,193 858,200 830,220 830,237 825,247 813,250 792,250 777,256 763,253 753,245 747,237 745,230 733,228 730,220 715,218 707,225 697,223 683,227 667,233 663,228 647,228 627,220 600,222 587,223 573,227 572,232 560,240 560,248 548,257 547,263 520,268 508,278 507,282 483,288 477,283 465,283 462,277 450,276 447,272 432,273 423,278 422,287 415,293 387,295 380,298 330,298 317,303 310,312 310,325 322,337 303,339 292,345 250,345 233,348 200,350 160,348 147,343 130,338 113,330 97,317 78,310 67,303 50,305 48,293 32,277 23,262 13,253" fill="none" stroke="#000" stroke-width="2" stroke-linejoin="round"/>
</svg>
<svg id="txt" width="900" height="692" viewBox="0 0 900 692" font-family="'Liberation Sans',Arial,sans-serif" fill="#000">
<text x="20.9" y="47.8" font-size="30.5" font-weight="bold" textLength="120.3" lengthAdjust="spacingAndGlyphs">Slovakia</text>
<g font-size="17" stroke="#000" stroke-width="0.4" transform="translate(0,-0.5)">
<text x="20" y="415" font-weight="bold" stroke-width="0.2" textLength="263" lengthAdjust="spacingAndGlyphs">Agricultural Stress Index (ASI)</text>
<text x="20" y="445" textLength="369" lengthAdjust="spacingAndGlyphs">% of cropland area affected by severe drought</text>
<text x="20" y="475" textLength="149" lengthAdjust="spacingAndGlyphs">per GAUL 2 region</text>
<text x="20" y="505" textLength="35" lengthAdjust="spacingAndGlyphs">from</text>
<text x="75.5" y="505" textLength="157.5" lengthAdjust="spacingAndGlyphs">: start of SEASON 1</text>
<text x="20" y="535" textLength="14.5" lengthAdjust="spacingAndGlyphs">to</text>
<text x="65.5" y="535" textLength="178" lengthAdjust="spacingAndGlyphs">: dekad 1 August 2025</text>
<text x="20" y="595" textLength="131" lengthAdjust="spacingAndGlyphs">METOP-AVHRR</text>
<text x="20" y="625" textLength="230.5" lengthAdjust="spacingAndGlyphs">WGS84, Geographic Lat/Lon</text>
</g>
<text x="470" y="406.7" font-size="14" font-weight="bold" textLength="49" lengthAdjust="spacingAndGlyphs">ASI (%)</text>
<rect x="470" y="407.2" width="49" height="1.3"/>
<g font-size="9.5" transform="translate(0,-0.2)">
<text x="510" y="423.7" textLength="20" lengthAdjust="spacingAndGlyphs">&lt; 10</text>
<text x="510" y="440.7" textLength="32" lengthAdjust="spacingAndGlyphs">10 - 25</text>
<text x="510" y="457.7" textLength="32" lengthAdjust="spacingAndGlyphs">25 - 40</text>
<text x="510" y="474.7" textLength="32" lengthAdjust="spacingAndGlyphs">40 - 55</text>
<text x="510" y="491.7" textLength="32" lengthAdjust="spacingAndGlyphs">55 - 70</text>
<text x="510" y="508.7" textLength="32" lengthAdjust="spacingAndGlyphs">70 - 85</text>
<text x="510" y="525.7" textLength="26.3" lengthAdjust="spacingAndGlyphs">&gt;= 85</text>
<text x="510" y="553.7" textLength="50" lengthAdjust="spacingAndGlyphs">off season</text>
<text x="510" y="570.7" textLength="35" lengthAdjust="spacingAndGlyphs">no data</text>
<text x="510" y="587.7" textLength="55.8" lengthAdjust="spacingAndGlyphs">no seasons</text>
<text x="510" y="604.7" textLength="57.2" lengthAdjust="spacingAndGlyphs">no cropland</text>
</g>
<g font-size="11">
<text x="15" y="662" textLength="841" lengthAdjust="spacingAndGlyphs">Disclaimer: The boundaries and names shown and the designations used on this map do not imply the expression of any opinion whatsoever on the part of FAO</text>
<text x="15" y="676" textLength="733" lengthAdjust="spacingAndGlyphs">concerning the legal status of any country, territory, area or of its authorities, or concerning the delimitation of its frontiers and boundaries.</text>
</g>
</svg>
<div class="lg" style="top:413px;background:#33cc00;"></div>
<div class="lg" style="top:430px;background:#99e619;"></div>
<div class="lg" style="top:447px;background:#ffff33;"></div>
<div class="lg" style="top:464px;background:#ffb526;"></div>
<div class="lg" style="top:481px;background:#ff7a1a;"></div>
<div class="lg" style="top:498px;background:#ff330d;"></div>
<div class="lg" style="top:515px;background:#c00000;"></div>
<div class="lg" style="top:543px;background:#6666ff;"></div>
<div class="lg" style="top:560px;background:#000000;"></div>
<div class="lg" style="top:577px;background:#666666;"></div>
<div class="lg" style="top:594px;background:#cccccc;"></div>
<svg id="logo" width="900" height="692" viewBox="0 0 900 692" font-family="'Liberation Sans',Arial,sans-serif">
<g fill="#1a1a1a" stroke="none">
<circle cx="701.2" cy="501.1" r="26.6" fill="#fff" stroke="#1a1a1a" stroke-width="2.7"/>
<!-- stem and ear -->
<rect x="700.3" y="512" width="2" height="15" />
<ellipse cx="701.3" cy="510.6" rx="7" ry="4.6"/>
<!-- V -->
<polyline points="686.5,480.2 701.3,507.4 716.1,480.2" fill="none" stroke="#1a1a1a" stroke-width="5.2" stroke-linejoin="miter"/>
<polyline points="686.5,480.2 701.3,507.4 716.1,480.2" fill="none" stroke="#fff" stroke-width="1.1" stroke-linejoin="miter"/>
<!-- inner chevrons -->
<polygon points="696.2,496.4 701.3,505 706.4,496.4 701.3,499.5" fill="#1a1a1a"/>
<!-- drop -->
<path d="M701,490.3 C702.6,492.6 703.3,493.8 703.3,495 A2.3,2.3 0 0 1 698.7,495 C698.7,493.8 699.4,492.6 701,490.3 Z"/>
<text x="679.6" y="502.9" font-size="14.6" font-weight="bold" stroke="#1a1a1a" stroke-width="0.7" textLength="6.8" lengthAdjust="spacingAndGlyphs">F</text>
<text x="696.8" y="488.6" font-size="12.6" font-weight="bold" stroke="#1a1a1a" stroke-width="0.6" textLength="9" lengthAdjust="spacingAndGlyphs">A</text>
<text x="714.4" y="503" font-size="14.8" font-weight="bold" stroke="#1a1a1a" stroke-width="0.7" textLength="9.6" lengthAdjust="spacingAndGlyphs">O</text>
<path id="arcF" d="M679.0,509.2 A23.6,23.6 0 0 0 695.6,524.0" fill="none"/>
<path id="arcP" d="M705.6,524.3 A23.6,23.6 0 0 0 724.0,507.4" fill="none"/>
<text font-size="7" font-weight="bold" stroke="#1a1a1a" stroke-width="0.35"><textPath href="#arcF" textLength="22" lengthAdjust="spacing">FIAT</textPath></text>
<text font-size="7" font-weight="bold" stroke="#1a1a1a" stroke-width="0.35"><textPath href="#arcP" textLength="26" lengthAdjust="spacing">PANIS</textPath></text>
<!-- wordmark -->
<text x="738.7" y="490.9" font-size="16" font-weight="bold" stroke="#1a1a1a" stroke-width="0.25" textLength="138.6" lengthAdjust="spacingAndGlyphs">Food and Agriculture</text>
<text x="738.7" y="508.2" font-size="16" font-weight="bold" stroke="#1a1a1a" stroke-width="0.25" textLength="128.8" lengthAdjust="spacingAndGlyphs">Organization of the</text>
<text x="738.7" y="525.5" font-size="16" font-weight="bold" stroke="#1a1a1a" stroke-width="0.25" textLength="98.6" lengthAdjust="spacingAndGlyphs">United Nations</text>
<rect x="672.5" y="543.5" width="215" height="1.5" fill="#1a1a1a"/>
<text x="673.3" y="569" font-size="15" fill="#333" textLength="185.4" lengthAdjust="spacingAndGlyphs">Global Information and Early</text>
<text x="673.3" y="587" font-size="15" fill="#333" textLength="162.2" lengthAdjust="spacingAndGlyphs">Warning System – GIEWS</text>
</g>
</svg>

<div id="frame"></div>
</body></html>
